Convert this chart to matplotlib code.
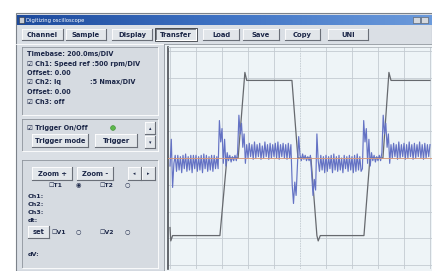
import numpy as np
import matplotlib.pyplot as plt
from matplotlib.patches import Rectangle, Circle
from matplotlib.colors import LinearSegmentedColormap

W, H = 432, 271

# --- scope data, in screen divisions (x 0..10, y -4..4) ---
# Ch1: speed reference, breakpoints
ch1_t = [0.00, 0.03, 0.10, 1.92, 2.19, 2.62, 2.88, 2.95, 4.69, 4.92, 5.42,
         5.65, 5.70, 5.78, 7.46, 7.69, 8.19, 8.42, 8.50, 10.0]
ch1_v = [-2.6, -3.1, -2.9, -2.9, 0.0, 0.0, 3.2, 2.9, 2.9, 0.0, 0.0,
         -2.9, -3.1, -2.9, -2.9, 0.0, 0.0, 3.2, 2.9, 2.9]

# Ch2: Iq, one sample every 0.05 div (one row = one division)
ch2_dt = 0.05
ch2_v = [
    -0.3, 0.7, -1.1, -0.2, 0.1, -0.5, 0.1, -0.45, 0.05, -0.55, 0.1, -0.4, 0.15, -0.5, 0.05, -0.45, 0.1, -0.55, 0.1, -0.4,
    0.1, -0.5, 0.05, -0.45, 0.1, -0.55, 0.15, -0.4, 0.1, -0.5, 0.05, -0.45, 0.1, -0.5, 0.1, -0.4, 0.05, -0.4, 1.4, 0.6,
    1.1, -0.2, 0.7, -0.3, 0.2, -0.1, 0.1, -0.15, 0.05, -0.1, 0.1, -0.1, 0.2, 1.6, 0.9, 1.3, 0.4, 0.9, -0.2, 0.5,
    0.0, 0.55, 0.05, 0.5, -0.05, 0.6, 0.0, 0.5, 0.05, 0.55, -0.05, 0.45, 0.0, 0.6, 0.05, 0.5, -0.05, 0.55, 0.0, 0.5,
    0.05, 0.55, 0.0, 0.6, -0.05, 0.5, 0.05, 0.55, 0.0, 0.5, -0.05, 0.55, 0.0, 0.5, -1.0, -1.7, -0.9, -1.4, -0.3, 0.8,
    0.1, -0.1, 0.15, -0.05, 0.1, -0.1, 0.05, -0.1, 0.1, -0.6, -1.4, -0.8, -1.2, 0.9, -0.1, -0.5, 0.1, -0.45, 0.05, -0.55,
    0.1, -0.5, 0.05, -0.4, 0.1, -0.55, 0.15, -0.45, 0.05, -0.5, 0.1, -0.45, 0.0, -0.55, 0.1, -0.4, 0.05, -0.5, 0.1, -0.45,
    0.05, -0.55, 0.1, -0.5, 0.15, -0.45, 0.05, -0.5, -0.4, 1.4, 0.6, 1.1, -0.2, 0.7, -0.3, 0.2, -0.1, 0.1, -0.15, 0.05,
    -0.1, 0.1, -0.1, 0.2, 1.6, 0.9, 1.3, 0.4, 0.9, -0.2, 0.5, 0.0, 0.55, 0.05, 0.5, -0.05, 0.6, 0.0, 0.5, 0.05,
    0.55, -0.05, 0.5, 0.0, 0.6, 0.05, 0.5, -0.05, 0.55, 0.0, 0.5, 0.05, 0.6, 0.0, 0.5, -0.05, 0.55, 0.0, 0.5, 0.05,
    0.5,
]

menu_buttons = ["Channel", "Sample", "Display", "Transfer", "Load", "Save", "Copy", "UNI"]
menu_x = [22, 66, 112, 156, 203, 243, 285, 328]
menu_w = [41, 40, 40, 40, 36, 36, 35, 40]

info_lines = ["Timebase: 200.0ms/DIV", "\u2611 Ch1: Speed ref :500 rpm/DIV", "Offset: 0.00",
              "\u2611 Ch2: Iq", "Offset: 0.00", "\u2611 Ch3: off"]
cursor_labels = ["Ch1:", "Ch2:", "Ch3:", "dt:"]

PANEL = "#dadfe5"
TEXT = "#1c2748"
FONT = "DejaVu Sans"


def button(ax, x0, y0, x1, y1, label, fs=4.9, pressed=False):
    ax.add_patch(Rectangle((x0, y0), x1 - x0, y1 - y0, fc="#e2e6ea", ec="none"))
    hi, lo = ("#6a6f78", "#ffffff") if pressed else ("#ffffff", "#6a6f78")
    ax.plot([x0, x1], [y0, y0], color=hi, lw=0.6)
    ax.plot([x0, x0], [y0, y1], color=hi, lw=0.6)
    ax.plot([x0, x1], [y1, y1], color=lo, lw=0.8)
    ax.plot([x1, x1], [y0, y1], color=lo, lw=0.8)
    if pressed:
        ax.add_patch(Rectangle((x0 - 1, y0 - 1), x1 - x0 + 2, y1 - y0 + 2, fc="none", ec="#30343a", lw=0.6))
    ax.text((x0 + x1) / 2, (y0 + y1) / 2 + 0.5, label, fontsize=fs, fontweight="bold",
            color=TEXT, ha="center", va="center", family=FONT)


def sunken(ax, x0, y0, x1, y1):
    ax.add_patch(Rectangle((x0, y0), x1 - x0, y1 - y0, fc="#d6dbe1", ec="none"))
    ax.plot([x0, x1], [y0, y0], color="#8e949c", lw=0.6)
    ax.plot([x0, x0], [y0, y1], color="#8e949c", lw=0.6)
    ax.plot([x0, x1], [y1, y1], color="#ffffff", lw=0.6)
    ax.plot([x1, x1], [y0, y1], color="#ffffff", lw=0.6)


fig = plt.figure(figsize=(W / 100, H / 100), dpi=100)
fig.patch.set_facecolor("white")

# window chrome drawn in pixel coordinates
ui = fig.add_axes([0, 0, 1, 1])
ui.set_xlim(0, W)
ui.set_ylim(H, 0)
ui.axis("off")

ui.add_patch(Rectangle((16, 13), W - 16, H - 13, fc=PANEL, ec="#7c828a", lw=0.8))

# title bar with gradient
grad = np.linspace(0, 1, 256).reshape(1, -1)
tb_cmap = LinearSegmentedColormap.from_list("tb", ["#1d4a9c", "#3f73c4", "#6c9bdc"])
ui.imshow(grad, extent=(17, W, 25, 15), cmap=tb_cmap, aspect="auto", zorder=1)
ui.add_patch(Rectangle((18.5, 16.5), 5, 6, fc="#c8ccd2", ec="#30343a", lw=0.4, zorder=2))
ui.text(26, 20.3, "Digitizing oscilloscope", fontsize=3.8, color="white", va="center",
        family=FONT, zorder=2)
for bx in [413, 421]:
    ui.add_patch(Rectangle((bx, 16.5), 7, 6.5, fc="#d4d8dd", ec="#50545a", lw=0.4, zorder=2))
ui.set_xlim(0, W)
ui.set_ylim(H, 0)

# menu buttons
for lbl, x, w in zip(menu_buttons, menu_x, menu_w):
    button(ui, x, 29, x + w, 40, lbl, pressed=(lbl == "Transfer"))
ui.plot([16, W], [43.5, 43.5], color="#ffffff", lw=0.6)

# left panel: info box
sunken(ui, 22, 47, 158, 115)
for i, line in enumerate(info_lines):
    y = [54, 64, 73, 82, 92, 102][i]
    ui.text(27, y, line, fontsize=4.7, fontweight="bold", color=TEXT, va="center", family=FONT)
ui.text(90, 82, ":5 Nmax/DIV", fontsize=4.7, fontweight="bold", color=TEXT, va="center", family=FONT)

# trigger box
sunken(ui, 22, 119, 158, 151)
ui.text(27, 127.5, "\u2611 Trigger On/Off", fontsize=4.7, fontweight="bold", color=TEXT,
        va="center", family=FONT)
ui.add_patch(Circle((113, 128), 2.4, fc="#5cb84a", ec="#3b8a30", lw=0.4))
button(ui, 32, 134, 88, 147, "Trigger mode")
button(ui, 95, 134, 137, 147, "Trigger")
button(ui, 145, 122, 155, 134, "\u25b4", fs=3.5)
button(ui, 145, 136, 155, 148, "\u25be", fs=3.5)

# cursor box
sunken(ui, 22, 160, 158, 268)
button(ui, 32, 167, 72, 180, "Zoom +")
button(ui, 77, 167, 113, 180, "Zoom -")
button(ui, 128, 167, 141, 180, "\u25c2", fs=3.5)
button(ui, 142, 167, 155, 180, "\u25b8", fs=3.5)
for x, lbl in [(48, "\u2610T1"), (99, "\u2610T2")]:
    ui.text(x, 185, lbl, fontsize=4.4, fontweight="bold", color=TEXT, va="center", family=FONT)
ui.text(76, 185, "\u25c9", fontsize=4.4, color=TEXT, va="center", family=FONT)
ui.text(125, 185, "\u25cb", fontsize=4.4, color=TEXT, va="center", family=FONT)
for lbl, y in zip(cursor_labels, [197, 205, 213, 221]):
    ui.text(28, y, lbl, fontsize=4.6, fontweight="bold", color=TEXT, va="center", family=FONT)
button(ui, 28, 226, 49, 238, "set")
for x, lbl in [(51, "\u2610V1"), (99, "\u2610V2")]:
    ui.text(x, 232, lbl, fontsize=4.4, fontweight="bold", color=TEXT, va="center", family=FONT)
ui.text(76, 232, "\u25cb", fontsize=4.4, color=TEXT, va="center", family=FONT)
ui.text(125, 232, "\u25cb", fontsize=4.4, color=TEXT, va="center", family=FONT)
ui.text(28, 255, "dV:", fontsize=4.6, fontweight="bold", color=TEXT, va="center", family=FONT)

# plot area frame
ui.add_patch(Rectangle((164, 44), W - 164, H - 44, fc="#eef3f6", ec="none"))
ui.plot([164, 164], [44, H], color="#8e949c", lw=0.6)
ui.plot([164, W], [44, 44], color="#8e949c", lw=0.6)

# --- scope screen ---
ax = fig.add_axes([168 / W, 1 - 269 / H, (W - 168) / W, (269 - 47) / H])
ax.set_facecolor("#eef4f7")
ax.set_xlim(-2 / 26, 262 / 26)
ax.set_ylim(-(269 - 158) / 26.75, (158 - 47) / 26.75)
ax.set_xticks([])
ax.set_yticks([])
for s in ["right", "bottom"]:
    ax.spines[s].set_visible(False)
ax.spines["left"].set_color("#4a4e54")
ax.spines["left"].set_linewidth(1.2)
ax.spines["top"].set_color("#b0b6bc")
ax.spines["top"].set_linewidth(0.6)

for i in range(11):
    ax.axvline(i, color="#c3cbd1", lw=0.6, ls=(0, (2, 1)) if i == 5 else "-", zorder=1)
for j in range(-4, 5):
    ax.axhline(j, color="#c3cbd1", lw=0.6, zorder=1)

ch2_t = np.arange(len(ch2_v)) * ch2_dt
ax.plot(ch1_t, ch1_v, color="#66696e", lw=0.9, zorder=3)
ax.plot(ch2_t, ch2_v, color="#6472c4", lw=0.85, zorder=4)
ax.axhline(0, color="#dd9a7a", lw=0.6, zorder=5)

fig.savefig("out.png", dpi=100, facecolor=fig.get_facecolor())
